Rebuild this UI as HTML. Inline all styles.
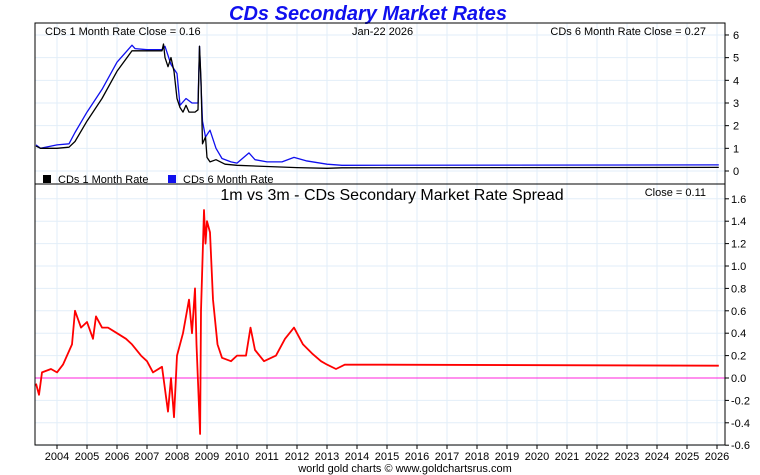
<!DOCTYPE html>
<html><head><meta charset="utf-8"><style>
body{margin:0;background:#fff;}
svg{display:block;font-family:"Liberation Sans",sans-serif;}
</style></head><body>
<svg id="c" width="760" height="475" xmlns="http://www.w3.org/2000/svg">
<text x="368" y="20" text-anchor="middle" font-size="20" font-weight="bold" font-style="italic" fill="#1010ee">CDs Secondary Market Rates</text>
<g id="grid"></g>
<g id="series"></g>
<rect x="35" y="23" width="690" height="422" fill="none" stroke="#000"/>
<line x1="35" y1="184" x2="725" y2="184" stroke="#000"/>
<text x="45" y="35" font-size="11">CDs 1 Month Rate Close = 0.16</text>
<text x="352" y="35" font-size="11">Jan-22  2026</text>
<text x="706" y="35" font-size="11" text-anchor="end">CDs 6 Month Rate Close = 0.27</text>
<rect x="43" y="175" width="8" height="8" fill="#000"/>
<text x="58" y="183" font-size="11">CDs 1 Month Rate</text>
<rect x="168" y="175" width="8" height="8" fill="#1010ee"/>
<text x="183" y="183" font-size="11">CDs 6 Month Rate</text>
<text x="392" y="200" font-size="16" text-anchor="middle">1m vs 3m - CDs Secondary Market Rate Spread</text>
<text x="706" y="196" font-size="11" text-anchor="end">Close = 0.11</text>
<text x="405" y="472" font-size="11" text-anchor="middle">world gold charts © www.goldchartsrus.com</text>
<g id="axes"></g>
</svg>
<script>
const years=[2004,2005,2006,2007,2008,2009,2010,2011,2012,2013,2014,2015,2016,2017,2018,2019,2020,2021,2022,2023,2024,2025,2026];
const topTicks=[0,1,2,3,4,5,6];
const botTicks=[-0.6,-0.4,-0.2,0.0,0.2,0.4,0.6,0.8,1.0,1.2,1.4,1.6];
const t1m=[2003.3,2003.45,2004.0,2004.4,2004.6,2005.0,2005.5,2006.0,2006.5,2006.6,2007.0,2007.5,2007.55,2007.6,2007.7,2007.8,2007.9,2008.0,2008.1,2008.2,2008.3,2008.4,2008.6,2008.7,2008.75,2008.8,2008.85,2008.95,2009.0,2009.1,2009.3,2009.6,2010.0,2011.0,2012.0,2013.0,2013.5,2026.06];
const v1m=[1.1,1.0,1.0,1.05,1.3,2.2,3.2,4.4,5.3,5.3,5.3,5.3,5.6,5.0,4.6,5.0,4.4,3.2,2.8,2.6,2.9,2.6,2.6,2.7,5.5,4.0,1.2,1.5,0.6,0.4,0.5,0.3,0.25,0.2,0.15,0.12,0.14,0.16];
const t6m=[2003.3,2003.45,2004.0,2004.4,2004.6,2005.0,2005.5,2006.0,2006.5,2006.6,2007.0,2007.5,2007.6,2007.8,2008.0,2008.1,2008.3,2008.5,2008.7,2008.75,2008.85,2008.95,2009.1,2009.3,2009.5,2009.8,2010.0,2010.4,2010.6,2011.0,2011.5,2011.9,2012.3,2013.0,2013.5,2026.06];
const v6m=[1.15,1.0,1.15,1.2,1.7,2.6,3.6,4.8,5.55,5.4,5.35,5.35,5.5,4.7,4.3,2.9,3.2,3.0,3.0,5.5,2.2,1.5,1.8,1.0,0.55,0.4,0.35,0.8,0.5,0.4,0.4,0.6,0.45,0.3,0.25,0.27];
const tsp=[2003.3,2003.4,2003.5,2003.8,2004.0,2004.2,2004.5,2004.6,2004.8,2005.0,2005.2,2005.3,2005.5,2005.7,2006.0,2006.3,2006.5,2006.8,2007.0,2007.2,2007.5,2007.7,2007.8,2007.9,2008.0,2008.2,2008.4,2008.5,2008.6,2008.65,2008.77,2008.8,2008.9,2008.95,2009.0,2009.1,2009.2,2009.35,2009.5,2009.8,2010.0,2010.3,2010.45,2010.6,2010.9,2011.3,2011.6,2011.9,2012.2,2012.5,2012.8,2013.0,2013.3,2013.6,2026.06];
const vsp=[-0.05,-0.15,0.05,0.08,0.05,0.12,0.3,0.6,0.45,0.5,0.35,0.55,0.45,0.45,0.4,0.35,0.3,0.2,0.15,0.05,0.1,-0.3,0.0,-0.35,0.2,0.4,0.7,0.4,0.8,0.3,-0.5,0.6,1.5,1.2,1.4,1.3,0.7,0.3,0.18,0.15,0.2,0.2,0.45,0.25,0.15,0.2,0.35,0.45,0.3,0.22,0.15,0.12,0.08,0.12,0.11];
const X=t=>57+(t-2004)*30;
const YT=v=>171-v*22.67;
const YB=v=>378-v*112;
const NS="http://www.w3.org/2000/svg";
const grid=document.getElementById('grid'),axes=document.getElementById('axes'),ser=document.getElementById('series');
function mk(tag,attrs,parent){const e=document.createElementNS(NS,tag);for(const k in attrs)e.setAttribute(k,attrs[k]);parent.appendChild(e);return e;}
years.forEach(y=>{
 const l=mk('line',{x1:X(y),x2:X(y),y1:23,y2:445,stroke:'#e2eef8'},grid);
 
 
 const t=mk('text',{x:X(y),y:460,'font-size':11,'text-anchor':'middle'},axes);
 t.textContent=y;
 
 
 mk('line',{x1:X(y),x2:X(y),y1:445,y2:449,stroke:'#000'},axes);
});
topTicks.forEach(v=>{
 const l=mk('line',{x1:35,x2:725,y1:YT(v),y2:YT(v),stroke:'#e2eef8'},grid);
 
 
 mk('line',{x1:725,x2:729,y1:YT(v),y2:YT(v),stroke:'#000'},axes);
 const t=mk('text',{x:733,y:YT(v)+4,'font-size':11},axes);
 t.textContent=v;
 
 
});
botTicks.forEach(v=>{
 const l=mk('line',{x1:35,x2:725,y1:YB(v),y2:YB(v),stroke:'#e2eef8'},grid);
 
 
 mk('line',{x1:725,x2:729,y1:YB(v),y2:YB(v),stroke:'#000'},axes);
 const t=mk('text',{x:731,y:YB(v)+4,'font-size':11},axes);
 t.textContent=v.toFixed(1);
 
 
});
function line(ts,vs,Y,col,w,name){
 const p=mk('polyline',{points:ts.map((t,i)=>X(t).toFixed(1)+','+Y(vs[i]).toFixed(1)).join(' '),fill:'none',stroke:col,'stroke-width':w,'stroke-linejoin':'round'},ser);
 
 
}
const z=mk('line',{x1:35,x2:725,y1:YB(0),y2:YB(0),stroke:'#ff22dd','stroke-width':1},ser);


line(t6m,v6m,YT,'#1010ee',1.3,'six-month-rate-line');
line(t1m,v1m,YT,'#000',1.3,'one-month-rate-line');
line(tsp,vsp,YB,'#ff0000',1.8,'spread-line');
</script>
</body></html>
